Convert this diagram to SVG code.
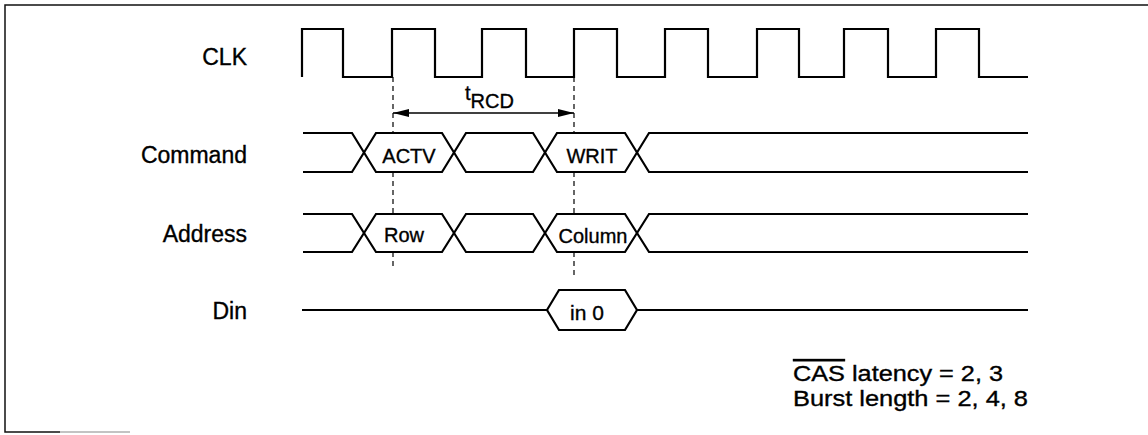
<svg xmlns="http://www.w3.org/2000/svg" width="1148" height="435" viewBox="0 0 1148 435">
  <style>
    .sig { fill: none; stroke: #000; stroke-width: 2.2; stroke-linejoin: miter; }
    .dash { fill: none; stroke: #000; stroke-width: 1.2; stroke-dasharray: 5 4; }
    .frame { fill: none; stroke: #111; stroke-width: 1.5; }
    text { font-family: "Liberation Sans", Arial, sans-serif; fill: #000; stroke: #000; stroke-width: 0.35; }
    .lbl { font-size: 23px; text-anchor: end; }
    .bus { font-size: 20px; text-anchor: middle; }
    .note { font-size: 22px; }
  </style>
  <defs>
    <marker id="ah" viewBox="0 0 16 10" refX="16" refY="5" markerWidth="16" markerHeight="10" markerUnits="userSpaceOnUse" orient="auto-start-reverse">
      <path d="M0,1 L16,5 L0,9 Z" fill="#000"/>
    </marker>
  </defs>

  <g id="frame">
    <path class="frame" d="M1148,5 H5 V432 H60"/>
    <path d="M60,432 H130" fill="none" stroke="#888" stroke-width="1.2"/>
  </g>

  <g id="labels">
    <text class="lbl" x="247" y="65">CLK</text>
    <text class="lbl" x="247" y="163">Command</text>
    <text class="lbl" x="247" y="242">Address</text>
    <text class="lbl" x="247" y="319">Din</text>
  </g>

  <g id="clk">
    <path class="sig" d="M302,77 V29 H343 V77 H392 V29 H435 V77 H482 V29 H526 V77 H574 V29 H617 V77 H665 V29 H708 V77 H757 V29 H799 V77 H844 V29 H888 V77 H936 V29 H979 V77 H1028"/>
  </g>

  <g id="command">
    <path class="sig" d="M303,133 H352 L376,172 H442 L466,133 H533 L557,172 H625 L649,133 H1028"/>
    <path class="sig" d="M303,172 H352 L376,133 H442 L466,172 H533 L557,133 H625 L649,172 H1028"/>
    <text class="bus" x="409" y="163">ACTV</text>
    <text class="bus" x="592" y="163">WRIT</text>
  </g>

  <g id="address">
    <path class="sig" d="M303,214 H352 L376,252 H442 L466,214 H533 L557,252 H625 L649,214 H1028"/>
    <path class="sig" d="M303,252 H352 L376,214 H442 L466,252 H533 L557,214 H625 L649,252 H1028"/>
    <text class="bus" x="404" y="242">Row</text>
    <text class="bus" x="593" y="243">Column</text>
  </g>

  <g id="din">
    <path class="sig" d="M302,310 H547 L559,290 H625 L637,310 H1028"/>
    <path class="sig" d="M547,310 L559,330 H625 L637,310"/>
    <text class="bus" x="587" y="320" style="font-size:21px">in 0</text>
  </g>

  <g id="connectors">
    <path class="dash" d="M393,77 V133 M393,172 V214 M393,252 V268"/>
    <path class="dash" d="M574,77 V133 M574,172 V214 M574,252 V278"/>
    <line x1="393" y1="113" x2="574" y2="113" stroke="#000" stroke-width="1.3" marker-start="url(#ah)" marker-end="url(#ah)"/>
    <text x="465" y="100" style="font-size:20px">t<tspan dy="8" style="font-size:20px">RCD</tspan></text>
  </g>

  <g id="notes">
    <text class="note" x="793" y="381" textLength="210" lengthAdjust="spacingAndGlyphs"><tspan style="text-decoration:overline">CAS</tspan> latency = 2, 3</text>
    <text class="note" x="793" y="406" textLength="235" lengthAdjust="spacingAndGlyphs">Burst length = 2, 4, 8</text>
  </g>
</svg>
